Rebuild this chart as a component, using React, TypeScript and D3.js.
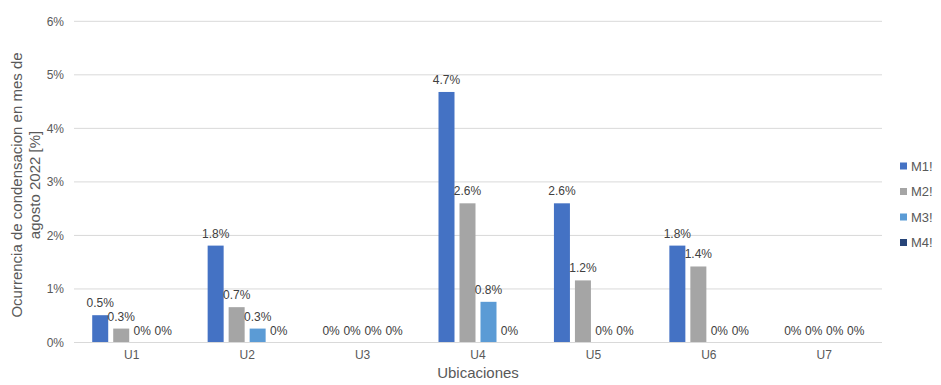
import React from "react";
import * as d3 from "d3";

// Ubicaciones and measurement series
const categories = ["U1", "U2", "U3", "U4", "U5", "U6", "U7"];
const seriesNames = ["M1!", "M2!", "M3!", "M4!"];
const seriesColors = ["#4472C4", "#A5A5A5", "#5B9BD5", "#264478"];

// Condensation occurrence (%) per series, one value per location
const m1 = [0.51, 1.81, 0, 4.68, 2.6, 1.81, 0];
const m2 = [0.26, 0.66, 0, 2.6, 1.16, 1.42, 0];
const m3 = [0, 0.26, 0, 0.76, 0, 0, 0];
const m4 = [0, 0, 0, 0, 0, 0, 0];
const seriesValues = [m1, m2, m3, m4];

const yTicks = [0, 1, 2, 3, 4, 5, 6];

const W = 941;
const H = 385;
const plot = { left: 74, right: 882, top: 21.3, bottom: 342.5 };
const font = "'Liberation Sans', Arial, sans-serif";

const fmt = (v: number) => (v === 0 ? "0%" : `${v.toFixed(1)}%`);

export default function App() {
  const x0 = d3
    .scaleBand<string>()
    .domain(categories)
    .range([plot.left, plot.right])
    .paddingInner(0)
    .paddingOuter(0);
  const groupWidth = 79;
  const x1 = d3
    .scaleBand<string>()
    .domain(seriesNames)
    .range([0, groupWidth])
    .paddingInner(0.238)
    .paddingOuter(0);
  const y = d3.scaleLinear().domain([0, 6]).range([plot.bottom, plot.top]);

  const groupOffset = (x0.bandwidth() - groupWidth) / 2;
  const titleMidY = 185;

  return (
    <svg
      width={W}
      height={H}
      style={{ position: "absolute", left: 0, top: 0, background: "#fff" }}
      fontFamily={font}
    >
      {/* gridlines and y tick labels */}
      {yTicks.map((t) => (
        <g key={t}>
          <line
            x1={plot.left}
            x2={plot.right}
            y1={y(t)}
            y2={y(t)}
            stroke="#D9D9D9"
            strokeWidth={1}
          />
          <text
            x={plot.left - 10}
            y={y(t)}
            dy="0.35em"
            textAnchor="end"
            fontSize={12}
            fill="#595959"
          >
            {`${t}%`}
          </text>
        </g>
      ))}

      {/* bars */}
      {categories.map((c, ci) => (
        <g key={c} transform={`translate(${(x0(c) ?? 0) + groupOffset},0)`}>
          {seriesNames.map((s, si) => {
            const v = seriesValues[si][ci];
            const bx = x1(s) ?? 0;
            const top = y(v);
            return (
              <g key={s}>
                {v > 0 && (
                  <rect
                    x={bx}
                    y={top}
                    width={x1.bandwidth()}
                    height={plot.bottom - top}
                    fill={seriesColors[si]}
                  />
                )}
                <text
                  x={bx + x1.bandwidth() / 2}
                  y={top - 8}
                  textAnchor="middle"
                  fontSize={12}
                  fill="#404040"
                >
                  {fmt(v)}
                </text>
              </g>
            );
          })}
        </g>
      ))}

      {/* category axis */}
      <line
        x1={plot.left}
        x2={plot.right}
        y1={plot.bottom}
        y2={plot.bottom}
        stroke="#D9D9D9"
        strokeWidth={1}
      />
      {categories.map((c) => (
        <text
          key={c}
          x={(x0(c) ?? 0) + x0.bandwidth() / 2}
          y={359}
          textAnchor="middle"
          fontSize={12}
          fill="#595959"
        >
          {c}
        </text>
      ))}

      {/* axis titles */}
      <text
        x={(plot.left + plot.right) / 2}
        y={377.5}
        textAnchor="middle"
        fontSize={15}
        fill="#595959"
      >
        Ubicaciones
      </text>
      <text
        transform={`translate(17,${titleMidY}) rotate(-90)`}
        textAnchor="middle"
        dy="0.35em"
        fontSize={15}
        fill="#595959"
      >
        Ocurrencia de condensacion en mes de
      </text>
      <text
        transform={`translate(35,${titleMidY}) rotate(-90)`}
        textAnchor="middle"
        dy="0.35em"
        fontSize={15}
        fill="#595959"
      >
        agosto 2022 [%]
      </text>

      {/* legend */}
      {seriesNames.map((s, i) => {
        const ly = 166 + i * 25.5;
        return (
          <g key={s}>
            <rect x={900} y={ly - 3.5} width={7} height={7} fill={seriesColors[i]} />
            <text x={911} y={ly} dy="0.35em" fontSize={13} fill="#595959">
              {s}
            </text>
          </g>
        );
      })}
    </svg>
  );
}
